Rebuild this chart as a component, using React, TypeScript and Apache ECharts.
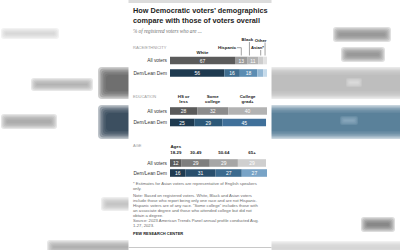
import React, { useEffect, useRef } from "react";
import * as echarts from "echarts";

const rowLabels = ["All voters", "Dem/Lean Dem"];
const raceCats = ["White", "Hispanic", "Black", "Asian*", "Other"];
const raceAll = [67, 13, 11, 5, 4];
const raceDem = [56, 16, 18, 6, 4];
const eduCats = [["HS or", "less"], ["Some", "college"], ["College", "grad+"]];
const eduAll = [28, 32, 40];
const eduDem = [25, 29, 45];
const ageCats = [["Ages", "18-29"], ["", "30-49"], ["", "50-64"], ["", "65+"]];
const ageAll = [12, 29, 29, 29];
const ageDem = [16, 31, 27, 27];

const grayRace = ["#5b5b5b", "#9b9b9b", "#b3b3b3", "#cdcdcd", "#e2e2e2"];
const blueRace = ["#1e3a50", "#3f6d8f", "#5b8cb2", "#94b8d4", "#c6dbeb"];
const grayEdu = ["#5b5b5b", "#8c8c8c", "#b3b3b3"];
const blueEdu = ["#1e3a50", "#2c5878", "#40709a"];
const grayAge = ["#5b5b5b", "#7e7e7e", "#a6a6a6", "#cfcfcf"];
const blueAge = ["#1e3a50", "#284e6c", "#3b6a8e", "#78a3c6"];

const FONT = "Liberation Sans, Arial, sans-serif";
const GL = 170;
const GW = 97;

const grids = [
  { top: 54.25, height: 25 },
  { top: 105.25, height: 23 },
  { top: 158, height: 20 },
];

function segCenter(vals: number[], i: number) {
  let s = 0;
  for (let k = 0; k < i; k++) s += vals[k];
  return GL + ((s + vals[i] / 2) * GW) / 100;
}

function txt(x: number, y: number, text: string, o: any = {}) {
  return {
    type: "text",
    x,
    y,
    z: 10,
    style: {
      text,
      fontFamily: o.family || FONT,
      fontSize: o.size || 4.4,
      fontWeight: o.bold ? "bold" : "normal",
      fontStyle: o.italic ? "italic" : "normal",
      fill: o.color || "#222",
      align: o.align || "left",
      verticalAlign: "middle",
    },
  };
}

// soft-edged blob made of stacked translucent rects (imitates a blurred backdrop)
function blob(out: any[], x: number, y: number, w: number, h: number, fill: string, spread = 5, strength = 1) {
  const layers = 6;
  for (let k = 0; k < layers; k++) {
    const d = spread - (k * 2 * spread) / (layers - 1);
    const ww = w + 2 * d;
    const hh = h + 2 * d;
    if (ww <= 0 || hh <= 0) continue;
    out.push({
      type: "rect",
      z: -5,
      shape: { x: x - d, y: y - d, width: ww, height: hh, r: Math.min(hh / 2, spread) },
      style: { fill, opacity: 0.3 * strength },
    });
  }
}

export default function App() {
  const ref = useRef<HTMLDivElement>(null);
  useEffect(() => {
    if (!ref.current) return;
    const chart = echarts.init(ref.current, null, { renderer: "svg" });

    const groups = [
      { all: raceAll, dem: raceDem, gray: grayRace, blue: blueRace },
      { all: eduAll, dem: eduDem, gray: grayEdu, blue: blueEdu },
      { all: ageAll, dem: ageDem, gray: grayAge, blue: blueAge },
    ];

    const series: any[] = [];
    groups.forEach((g, gi) => {
      g.all.forEach((_, i) => {
        series.push({
          type: "bar",
          xAxisIndex: gi,
          yAxisIndex: gi,
          stack: "s" + gi,
          barWidth: 7.6,
          data: [
            { value: g.all[i], itemStyle: { color: g.gray[i] } },
            { value: g.dem[i], itemStyle: { color: g.blue[i] } },
          ],
          label: {
            show: true,
            position: "inside",
            color: "#fff",
            fontSize: 5,
            fontFamily: FONT,
            formatter: (p: any) => (p.value >= 8 ? String(p.value) : ""),
          },
        });
      });
    });

    const graphic: any[] = [];
    // blurred background (enlarged copy of the chart behind the panel)
    blob(graphic, 4, 31, 52, 5, "#d0d0d0", 3, 0.9);
    blob(graphic, 34, 81, 56, 7, "#a8a8a8", 3, 0.9);
    blob(graphic, 102, 71, 40, 24, "#5e5e5e", 4);
    blob(graphic, 4, 117, 50, 9, "#a0a0a0", 3, 0.9);
    blob(graphic, 102, 109, 40, 26, "#26394b", 4);
    blob(graphic, 104, 200, 30, 8, "#b8b8b8", 3, 0.8);
    blob(graphic, 50, 243, 90, 8, "#a0a0a0", 3, 0.8);
    blob(graphic, 336, 30, 52, 9, "#8a8a8a", 3, 0.9);
    blob(graphic, 344, 50, 38, 9, "#8a8a8a", 3, 0.9);
    blob(graphic, 255, 71, 160, 24, "#b6b6b6", 4);
    blob(graphic, 255, 109, 160, 26, "#45708f", 4);
    blob(graphic, 348, 80, 12, 5, "#e2e2e2", 2, 0.8);
    blob(graphic, 342, 118, 14, 5, "#94afc4", 2, 0.8);
    blob(graphic, 364, 220, 28, 9, "#6e6e6e", 3, 0.8);
    blob(graphic, 255, 244, 160, 8, "#cfcfcf", 3);

    // panel
    graphic.push({
      type: "rect",
      z: -1,
      shape: { x: 128.5, y: 0, width: 143, height: 250 },
      style: { fill: "#ffffff" },
    });
    graphic.push({
      type: "rect",
      z: 0,
      shape: { x: 128.5, y: 0, width: 143, height: 3 },
      style: { fill: "#dcdcdc" },
    });
    graphic.push({
      type: "line",
      z: 0,
      shape: { x1: 128.5, y1: 247.5, x2: 271.5, y2: 247.5 },
      style: { stroke: "#c8c8c8", lineWidth: 1 },
    });

    // titles
    graphic.push(txt(133, 10.5, "How Democratic voters’ demographics", { size: 7.3, bold: true, color: "#1e1e1e" }));
    graphic.push(txt(133, 20.5, "compare with those of voters overall", { size: 7.3, bold: true, color: "#1e1e1e" }));
    graphic.push(txt(133, 31, "% of registered voters who are ...", { size: 5.2, italic: true, color: "#6e6e6e", family: "Liberation Serif, serif" }));

    graphic.push(txt(133, 47.7, "RACE/ETHNICITY", { size: 4, color: "#9a9a9a" }));
    graphic.push(txt(133, 96, "EDUCATION", { size: 4, color: "#9a9a9a" }));
    graphic.push(txt(133, 145.7, "AGE", { size: 4, color: "#9a9a9a" }));

    // race headers
    const rc = raceAll.map((_, i) => segCenter(raceAll, i));
    const lineStyle = { stroke: "#444", lineWidth: 0.5, fill: null };
    graphic.push(txt(rc[0], 52.3, raceCats[0], { bold: true, align: "center" }));
    graphic.push(txt(rc[1] - 5, 47.7, raceCats[1], { bold: true, align: "right" }));
    graphic.push({ type: "polyline", z: 10, shape: { points: [[rc[1] - 4.3, 47.7], [rc[1], 47.7], [rc[1], 55.5]] }, style: lineStyle });
    graphic.push(txt(rc[2] - 5.5, 39.5, raceCats[2], { bold: true, align: "center" }));
    graphic.push({ type: "polyline", z: 10, shape: { points: [[rc[2] - 3.5, 42], [rc[2] - 3.5, 55.5]] }, style: lineStyle });
    graphic.push(txt(rc[3] + 3.3, 47.7, raceCats[3], { bold: true, align: "right", size: 4.2 }));
    graphic.push({ type: "polyline", z: 10, shape: { points: [[rc[3], 50], [rc[3], 55.5]] }, style: lineStyle });
    graphic.push(txt(rc[4] + 1.5, 40, raceCats[4], { bold: true, align: "right" }));
    graphic.push({ type: "polyline", z: 10, shape: { points: [[rc[4], 42.5], [rc[4], 55.5]] }, style: lineStyle });

    // edu headers
    eduCats.forEach((c, i) => {
      const cx = segCenter(eduAll, i);
      graphic.push(txt(cx, 96, c[0], { bold: true, align: "center" }));
      graphic.push(txt(cx, 101.7, c[1], { bold: true, align: "center" }));
    });
    // age headers
    ageCats.forEach((c, i) => {
      const cx = Math.max(segCenter(ageAll, i), GL + 3);
      if (c[0]) graphic.push(txt(cx, 146.7, c[0], { bold: true, align: "center" }));
      graphic.push(txt(cx, 152.7, c[1], { bold: true, align: "center" }));
    });

    // notes
    const notes = [
      [183.3, "* Estimates for Asian voters are representative of English speakers"],
      [188.3, "only."],
      [195, "Note: Based on registered voters. White, Black and Asian voters"],
      [200.4, "include those who report being only one race and are not Hispanic."],
      [205.6, "Hispanic voters are of any race. “Some college” includes those with"],
      [210.6, "an associate degree and those who attended college but did not"],
      [215.6, "obtain a degree."],
      [220.7, "Source: 2023 American Trends Panel annual profile conducted Aug."],
      [225.7, "1-27, 2023."],
    ] as [number, string][];
    notes.forEach(([y, t]) => graphic.push(txt(133, y, t, { size: 4.2, color: "#6a6a6a" })));
    graphic.push(txt(133, 233.3, "PEW RESEARCH CENTER", { size: 4, bold: true, color: "#222" }));

    chart.setOption({
      animation: false,
      backgroundColor: "#ffffff",
      grid: grids.map((g) => ({ left: GL, width: GW, top: g.top, height: g.height })),
      xAxis: grids.map((_, i) => ({ type: "value", gridIndex: i, min: 0, max: 100, show: false })),
      yAxis: grids.map((_, i) => ({
        type: "category",
        gridIndex: i,
        inverse: true,
        data: rowLabels,
        axisLine: { show: false },
        axisTick: { show: false },
        axisLabel: { fontSize: 4.8, color: "#333", fontFamily: FONT, margin: 3 },
      })),
      series,
      graphic,
    });
    return () => chart.dispose();
  }, []);
  return <div ref={ref} style={{ position: "fixed", left: 0, top: 0, width: 400, height: 250 }} />;
}
